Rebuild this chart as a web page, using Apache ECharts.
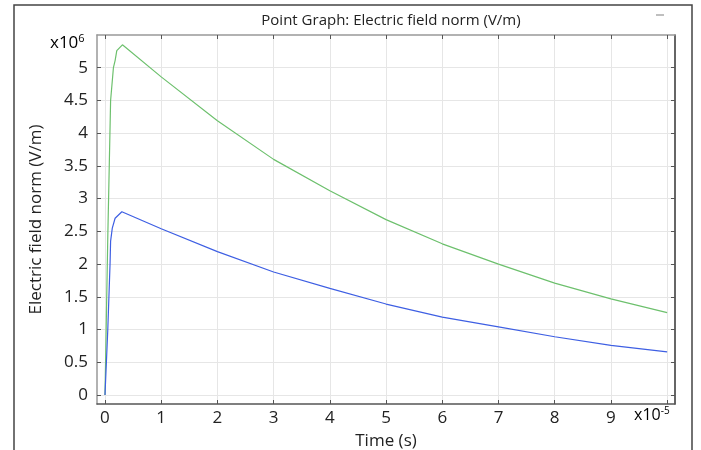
<!DOCTYPE html>
<html>
<head>
<meta charset="utf-8">
<script src="https://cdn.jsdelivr.net/npm/echarts@6/dist/echarts.min.js"></script>
<style>
html,body{margin:0;padding:0;background:#fff;}
#c{width:701px;height:450px;}
</style>
</head>
<body>
<div id="c"></div>
<script>
// Time in units of 1e-5 s, field in units of 1e6 V/m
var greenX = [0, 0.05, 0.10, 0.15, 0.18, 0.21, 0.31, 1, 2, 3, 4, 5, 6, 7, 8, 9, 10];
var greenY = [0, 2.42, 4.50, 5.00, 5.11, 5.26, 5.35, 4.86, 4.19, 3.60, 3.12, 2.68, 2.31, 2.00, 1.71, 1.47, 1.26];
var blueX = [0, 0.05, 0.07, 0.09, 0.10, 0.13, 0.18, 0.30, 1, 2, 3, 4, 5, 6, 7, 8, 9, 10];
var blueY = [0, 1.00, 1.50, 2.00, 2.35, 2.55, 2.70, 2.80, 2.54, 2.19, 1.88, 1.63, 1.39, 1.19, 1.04, 0.89, 0.76, 0.66];
var xTicks = [0, 1, 2, 3, 4, 5, 6, 7, 8, 9, 10];
var xLabels = [0, 1, 2, 3, 4, 5, 6, 7, 8, 9];
var yTicks = [0, 0.5, 1, 1.5, 2, 2.5, 3, 3.5, 4, 4.5, 5];

function pairs(xs, ys) { return xs.map(function (x, i) { return [x, ys[i]]; }); }

var FONT = '"Open Sans", "Noto Sans", sans-serif';
var xMin = -0.142, xMax = 10.14, yMin = -0.137, yMax = 5.5;

var chart = echarts.init(document.getElementById('c'), null, {renderer: 'canvas'});
function axisCommon(showLabel, lineColor) {
  return {
    axisLine: {show: true, onZero: false, lineStyle: {color: lineColor, width: 1.5}},
    axisTick: {show: true, inside: true, length: 4, lineStyle: {color: '#555'}},
    splitLine: {show: false},
    axisLabel: {show: showLabel}
  };
}
var xBottom = Object.assign(axisCommon(true, '#555'), {
  type: 'value', position: 'bottom', min: xMin, max: xMax,
  name: 'Time (s)', nameLocation: 'middle', nameGap: 29,
  nameTextStyle: {fontFamily: FONT, fontSize: 17, color: '#222'},
  splitLine: {show: true, lineStyle: {color: '#e6e6e6', width: 1}}
});
xBottom.axisTick.customValues = xTicks;
xBottom.axisLabel = {show: true, customValues: xLabels, fontFamily: FONT, fontSize: 17, color: '#222', margin: 6};
var xTop = Object.assign(axisCommon(false, '#999'), {type: 'value', position: 'top', min: xMin, max: xMax});
xTop.axisTick.customValues = xTicks;
var yLeft = Object.assign(axisCommon(true, '#999'), {
  type: 'value', position: 'left', min: yMin, max: yMax,
  name: 'Electric field norm (V/m)', nameLocation: 'middle', nameGap: 52, nameRotate: 90,
  nameTextStyle: {fontFamily: FONT, fontSize: 17, color: '#222'},
  splitLine: {show: true, lineStyle: {color: '#e6e6e6', width: 1}}
});
yLeft.axisTick.customValues = yTicks;
yLeft.axisLabel = {show: true, customValues: yTicks, fontFamily: FONT, fontSize: 17, color: '#222', margin: 9};
var yRight = Object.assign(axisCommon(false, '#333'), {type: 'value', position: 'right', min: yMin, max: yMax});
yRight.axisTick.customValues = yTicks;

chart.setOption({
  animation: false,
  backgroundColor: '#fff',
  title: {
    text: 'Point Graph: Electric field norm (V/m)',
    left: 386, top: 8, textAlign: 'center',
    textStyle: {fontFamily: FONT, fontSize: 15, fontWeight: 'normal', color: '#222'}
  },
  grid: {left: 97, top: 35, right: 26, bottom: 46, containLabel: false, outerBoundsMode: 'none'},
  xAxis: [xBottom, xTop],
  yAxis: [yLeft, yRight],
  graphic: [
    {type: 'rect', shape: {x: 14, y: 5, width: 678, height: 460},
     style: {fill: 'none', stroke: '#444', lineWidth: 1.5}, silent: true, z: 100},
    {type: 'text', left: 50, top: 33,
     style: {text: '{b|x10}{s|6}', rich: {b: {fontFamily: FONT, fontSize: 17, color: '#222'}, s: {fontFamily: FONT, fontSize: 11, color: '#222', padding: [0, 0, 9, 0]}}}},
    {type: 'text', left: 634, top: 406,
     style: {text: '{b|x10}{s|-5}', rich: {b: {fontFamily: FONT, fontSize: 16, color: '#222'}, s: {fontFamily: FONT, fontSize: 10, color: '#222', padding: [0, 0, 9, 0]}}}},
    {type: 'polyline', shape: {points: [[656, 15], [664, 15]]}, style: {stroke: '#aaa', lineWidth: 1.5}}
  ],
  series: [
    {type: 'line', name: 'green', data: pairs(greenX, greenY), showSymbol: false, smooth: false,
     lineStyle: {color: '#6dc06d', width: 1.2}, itemStyle: {color: '#6dc06d'}},
    {type: 'line', name: 'blue', data: pairs(blueX, blueY), showSymbol: false, smooth: false,
     lineStyle: {color: '#3e5fe3', width: 1.2}, itemStyle: {color: '#3e5fe3'}}
  ]
});
</script>
</body>
</html>
